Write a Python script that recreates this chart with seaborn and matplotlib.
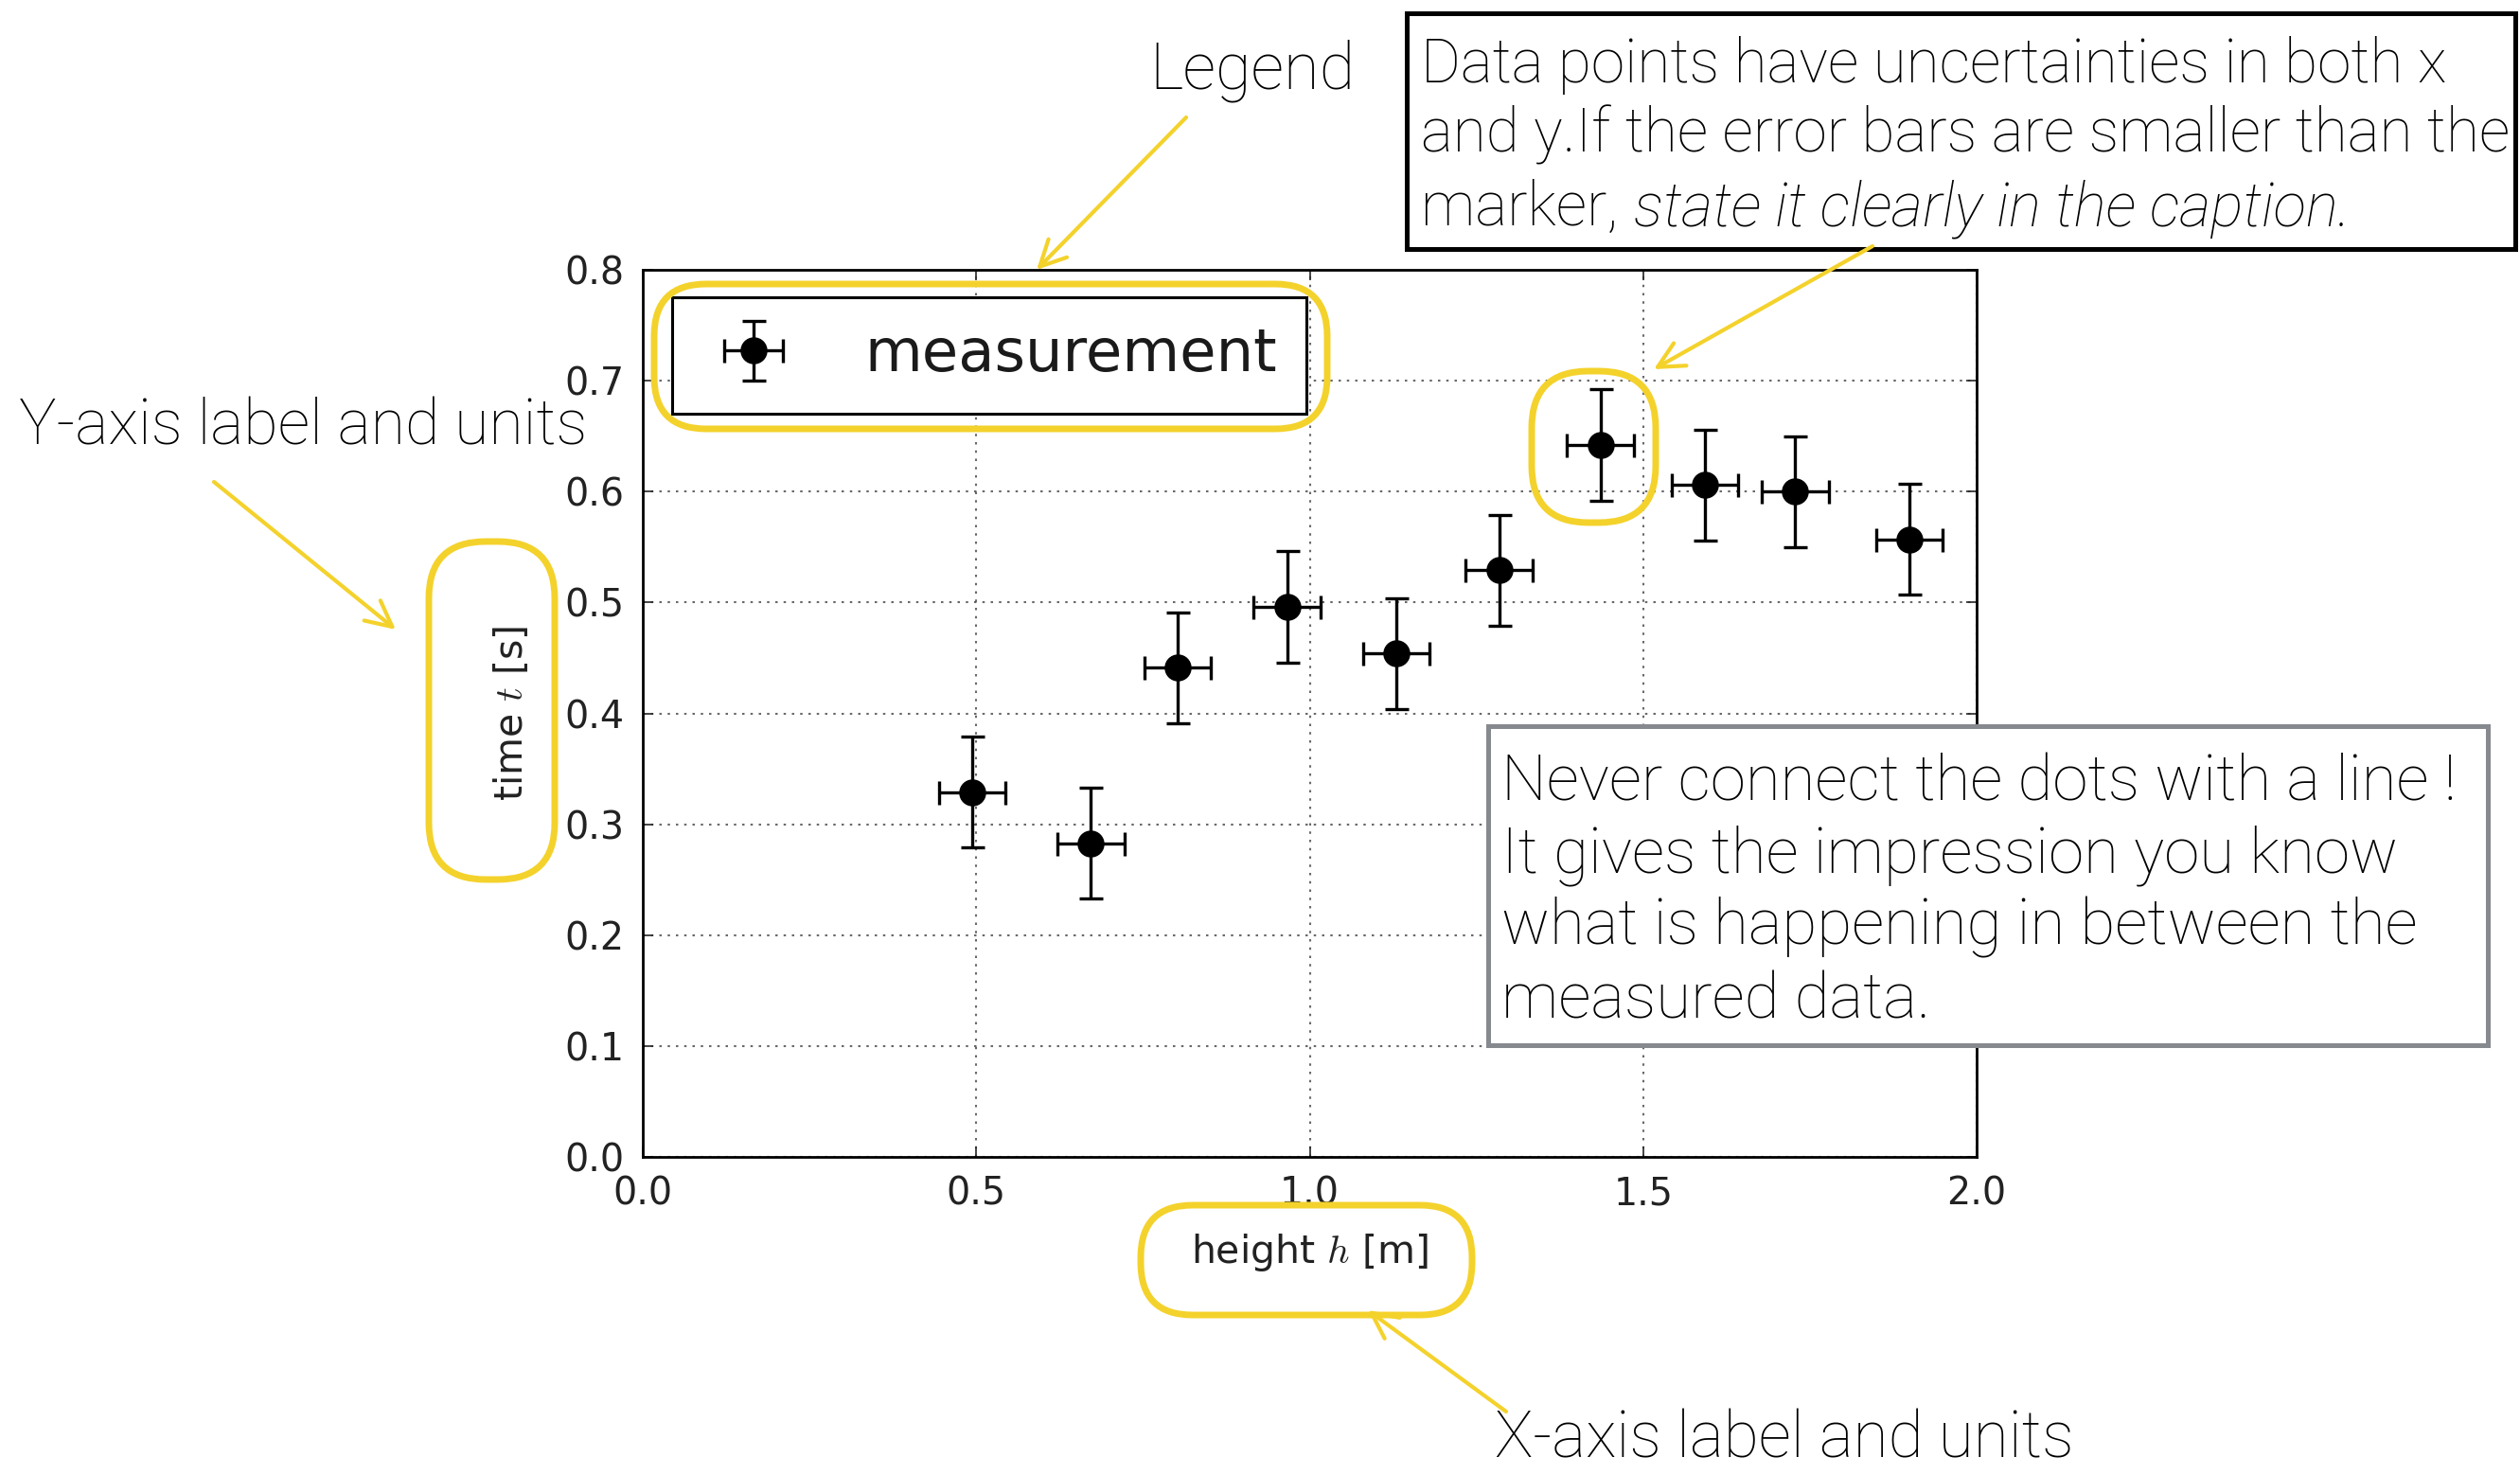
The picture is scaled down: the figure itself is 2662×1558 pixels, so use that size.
import matplotlib
matplotlib.use("Agg")
import matplotlib.pyplot as plt
from matplotlib.patches import FancyBboxPatch, Rectangle, FancyArrowPatch
import seaborn as sns
import pandas as pd

# Measured drop heights and fall times with their uncertainties
height_m = [0.494, 0.672, 0.802, 0.966, 1.130, 1.284, 1.436, 1.593, 1.728, 1.899]
time_s = [0.329, 0.283, 0.441, 0.496, 0.454, 0.529, 0.642, 0.606, 0.600, 0.557]
height_err = [0.05, 0.05, 0.05, 0.05, 0.05, 0.05, 0.05, 0.05, 0.05, 0.05]
time_err = [0.05, 0.05, 0.05, 0.05, 0.05, 0.05, 0.05, 0.05, 0.05, 0.05]

x_ticks = [0.0, 0.5, 1.0, 1.5, 2.0]
y_ticks = [0.0, 0.1, 0.2, 0.3, 0.4, 0.5, 0.6, 0.7, 0.8]
series_label = "measurement"
x_label = r"height $h$ [m]"
y_label = r"time $t$ [s]"

note_top = ["Data points have uncertainties in both x",
            "and y.If the error bars are smaller than the",
            "marker,"]
note_top_italic = "state it clearly in the caption."
note_side = ["Never connect the dots with a line !",
             "It gives the impression you know",
             "what is happening in between the",
             "measured data."]

df = pd.DataFrame({"height": height_m, "time": time_s,
                   "height_err": height_err, "time_err": time_err})

W, H = 2662, 1558
DPI = 100
YELLOW = "#F4D22C"
SANS = ["Roboto", "Liberation Sans", "DejaVu Sans"]

sns.set_theme(style="white")
plt.rcParams["font.family"] = ["DejaVu Sans"]
plt.rcParams["mathtext.fontset"] = "cm"

fig = plt.figure(figsize=(W / DPI, H / DPI), dpi=DPI, facecolor="white")
renderer = fig.canvas.get_renderer()


def px_rect(x0, y0, x1, y1):
    return [x0 / W, 1 - y1 / H, (x1 - x0) / W, (y1 - y0) / H]


def inch(x, y):
    return (x / DPI, (H - y) / DPI)


ax = fig.add_axes(px_rect(679, 285, 2088, 1222))

ax.errorbar(df["height"], df["time"], xerr=df["height_err"], yerr=df["time_err"],
            fmt="o", ms=19.5, mfc="black", mec="black", ecolor="black",
            elinewidth=2.4, capsize=9, capthick=2.4, label=series_label, zorder=3)
sns.scatterplot(data=df, x="height", y="time", ax=ax, color="black", s=19.5 ** 2,
                edgecolor="black", linewidth=0, zorder=4, legend=False)

ax.set_xlim(0, 2)
ax.set_ylim(0, 0.8)
ax.set_xticks(x_ticks)
ax.set_xticklabels([f"{t:.1f}" for t in x_ticks])
ax.set_yticks(y_ticks)
ax.set_yticklabels([f"{t:.1f}" for t in y_ticks])
ax.grid(True, color="#444444", linestyle=(0, (1.2, 3.0)), linewidth=1.5, alpha=0.8)
ax.set_axisbelow(True)
for sp in ax.spines.values():
    sp.set_visible(True)
    sp.set_color("black")
    sp.set_linewidth(2.0)
ax.tick_params(direction="in", length=8, width=1.2, bottom=True, left=True,
               top=True, right=True, labelsize=28.5, labelcolor="#222222", pad=14)

ax.set_xlabel(x_label, fontsize=29.5, color="#222222")
ax.set_ylabel(y_label, fontsize=29.5, color="#222222")
ax.xaxis.set_label_coords(0.5, -(1301 - 1222) / 937)
ax.yaxis.set_label_coords(-(679 - 561) / 1409, 0.5)

leg = ax.legend(loc="upper left",
                bbox_to_anchor=((710 - 679) / 1409, 1 - (314 - 285) / 937),
                borderaxespad=0, fontsize=45, handlelength=1.75, handletextpad=1.0,
                borderpad=0.5, frameon=True, fancybox=False, framealpha=1,
                edgecolor="black", numpoints=1)
leg.get_frame().set_linewidth(2.2)
for t in leg.get_texts():
    t.set_color("#1a1a1a")

# Note boxes
fig.add_artist(Rectangle(inch(1486, 263), (2657 - 1486) / DPI, (263 - 14) / DPI,
                         transform=fig.dpi_scale_trans, fc="white", ec="black",
                         lw=3.6, zorder=5))
fig.add_artist(Rectangle(inch(1572, 1104), (2628 - 1572) / DPI, (1104 - 767) / DPI,
                         transform=fig.dpi_scale_trans, fc="white", ec="#86898d",
                         lw=3.6, zorder=5))

text_kw = dict(ha="left", va="baseline", family=SANS, fontweight="light",
               color="black", zorder=6)


def fitted_size(text, width_px, base=44.5):
    probe = fig.text(0, 0, text, fontsize=base, **text_kw)
    w = probe.get_window_extent(renderer).width
    probe.remove()
    return base * width_px / w


size_top = fitted_size(note_top[0], 1083)
for line, base in zip(note_top, [87, 161, 238]):
    last = fig.text(1501 / W, 1 - base / H, line, fontsize=size_top, **text_kw)
bb = last.get_window_extent(renderer)
fig.text((bb.x1 + 17) / W, 1 - 238 / H, note_top_italic, style="italic",
         fontsize=size_top, **text_kw)

size_side = fitted_size(note_side[0], 1007)
for line, base in zip(note_side, [845, 922, 998, 1075]):
    fig.text(1586 / W, 1 - base / H, line, fontsize=size_side, **text_kw)

for text, x, base, width in [("Legend", 1214, 93, 217),
                             ("Y-axis label and units", 20, 470, 599),
                             ("X-axis label and units", 1579, 1540, 611)]:
    fig.text(x / W, 1 - base / H, text, fontsize=fitted_size(text, width), **text_kw)

# Yellow highlight outlines
for (x0, y0, x1, y1, r) in [(691, 300, 1402, 453, 55),
                            (453, 572, 586, 929, 60),
                            (1205, 1273, 1555, 1389, 55),
                            (1618, 392, 1749, 552, 60)]:
    fig.add_artist(FancyBboxPatch(inch(x0, y1), (x1 - x0) / DPI, (y1 - y0) / DPI,
                                  boxstyle=f"round,pad=0,rounding_size={r / DPI}",
                                  transform=fig.dpi_scale_trans, fill=False,
                                  ec=YELLOW, lw=5, zorder=7))

for (xa, ya, xb, yb) in [(1253, 124, 1095, 285),
                         (226, 509, 418, 665),
                         (1591, 1491, 1445, 1384),
                         (1978, 260, 1747, 390)]:
    fig.add_artist(FancyArrowPatch(inch(xa, ya), inch(xb, yb),
                                   arrowstyle="->,head_length=0.7,head_width=0.35",
                                   mutation_scale=28, lw=3, color=YELLOW,
                                   shrinkA=0, shrinkB=0,
                                   transform=fig.dpi_scale_trans, zorder=7))

fig.savefig("out.png", dpi=DPI, facecolor="white")
